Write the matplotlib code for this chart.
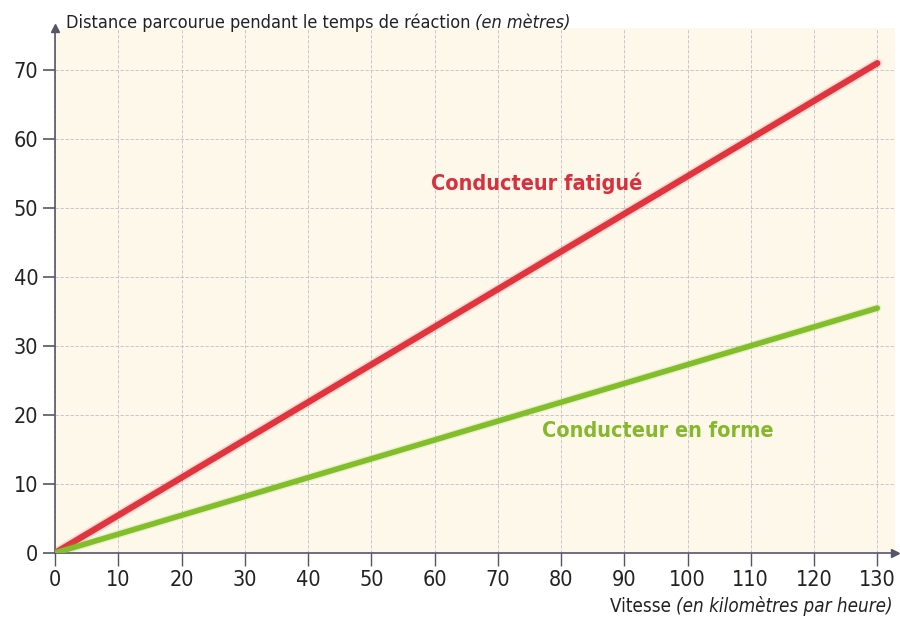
import matplotlib.pyplot as plt
import numpy as np

# data
vitesse = [0, 130]
fatigue = [0, 71]
en_forme = [0, 35.5]
xticks = list(range(0, 131, 10))
yticks = list(range(0, 71, 10))

red = '#e0353f'
green = '#82bd2a'
cream = '#fdf8ea'
axcol = '#55556a'

plt.rcParams['font.family'] = ['DejaVu Sans']
plt.rcParams['font.stretch'] = 'condensed'

fig = plt.figure(figsize=(9, 6.25), dpi=100)
ax = fig.add_axes([55/900, 1-553/625, 840/900, 525/625])
ax.set_facecolor(cream)
ax.set_xlim(0, 132.8)
ax.set_ylim(0, 76.1)

for s in ['top', 'right']:
    ax.spines[s].set_visible(False)
for s in ['left', 'bottom']:
    ax.spines[s].set_color(axcol)
    ax.spines[s].set_linewidth(1.2)

# arrows on axes
ax.plot(1, 0, '>', color=axcol, transform=ax.transAxes, clip_on=False, ms=6)
ax.plot(0, 1, '^', color=axcol, transform=ax.transAxes, clip_on=False, ms=6)

ax.set_xticks(xticks)
ax.set_yticks(yticks)
ax.tick_params(axis='x', direction='out', length=9, width=1, colors=axcol,
               labelsize=15.5, labelcolor='#222222', pad=3)
ax.tick_params(axis='y', direction='out', length=9, width=1.2, colors=axcol,
               labelsize=15.5, labelcolor='#222222', pad=3)
ax.grid(True, ls=(0, (4, 2)), color='#bdbfcc', lw=0.6)
ax.set_axisbelow(True)

# soft glow then the line
ax.plot(vitesse, fatigue, color=red, lw=7, alpha=0.15, solid_capstyle='round', zorder=3)
ax.plot(vitesse, fatigue, color=red, lw=4.5, solid_capstyle='round', zorder=3)
ax.plot(vitesse, en_forme, color=green, lw=6, alpha=0.15, solid_capstyle='round', zorder=3)
ax.plot(vitesse, en_forme, color=green, lw=4, solid_capstyle='round', zorder=3)

ax.text(76.2, 53.6, 'Conducteur fatigué', color='#d8303f', fontsize=15.5, fontweight='bold',
        ha='center', va='center')
ax.text(95.3, 17.7, 'Conducteur en forme', color='#86b82c', fontsize=15.5, fontweight='bold',
        ha='center', va='center')

t1 = fig.text(66/900, 1-28/625, 'Distance parcourue pendant le temps de réaction',
              fontsize=13, color='#222222', va='baseline')
ax.annotate(' (en mètres)', xy=(1, 0), xycoords=t1, va='bottom', fontsize=13,
            style='italic', color='#222222')

t2 = fig.text(893/900, 1-612/625, '(en kilomètres par heure)', fontsize=13.5,
              style='italic', color='#222222', ha='right', va='baseline')
ax.annotate('Vitesse ', xy=(0, 0), xycoords=t2, ha='right', va='bottom', fontsize=13.5,
            color='#222222')

fig.savefig('out.png', dpi=100)
